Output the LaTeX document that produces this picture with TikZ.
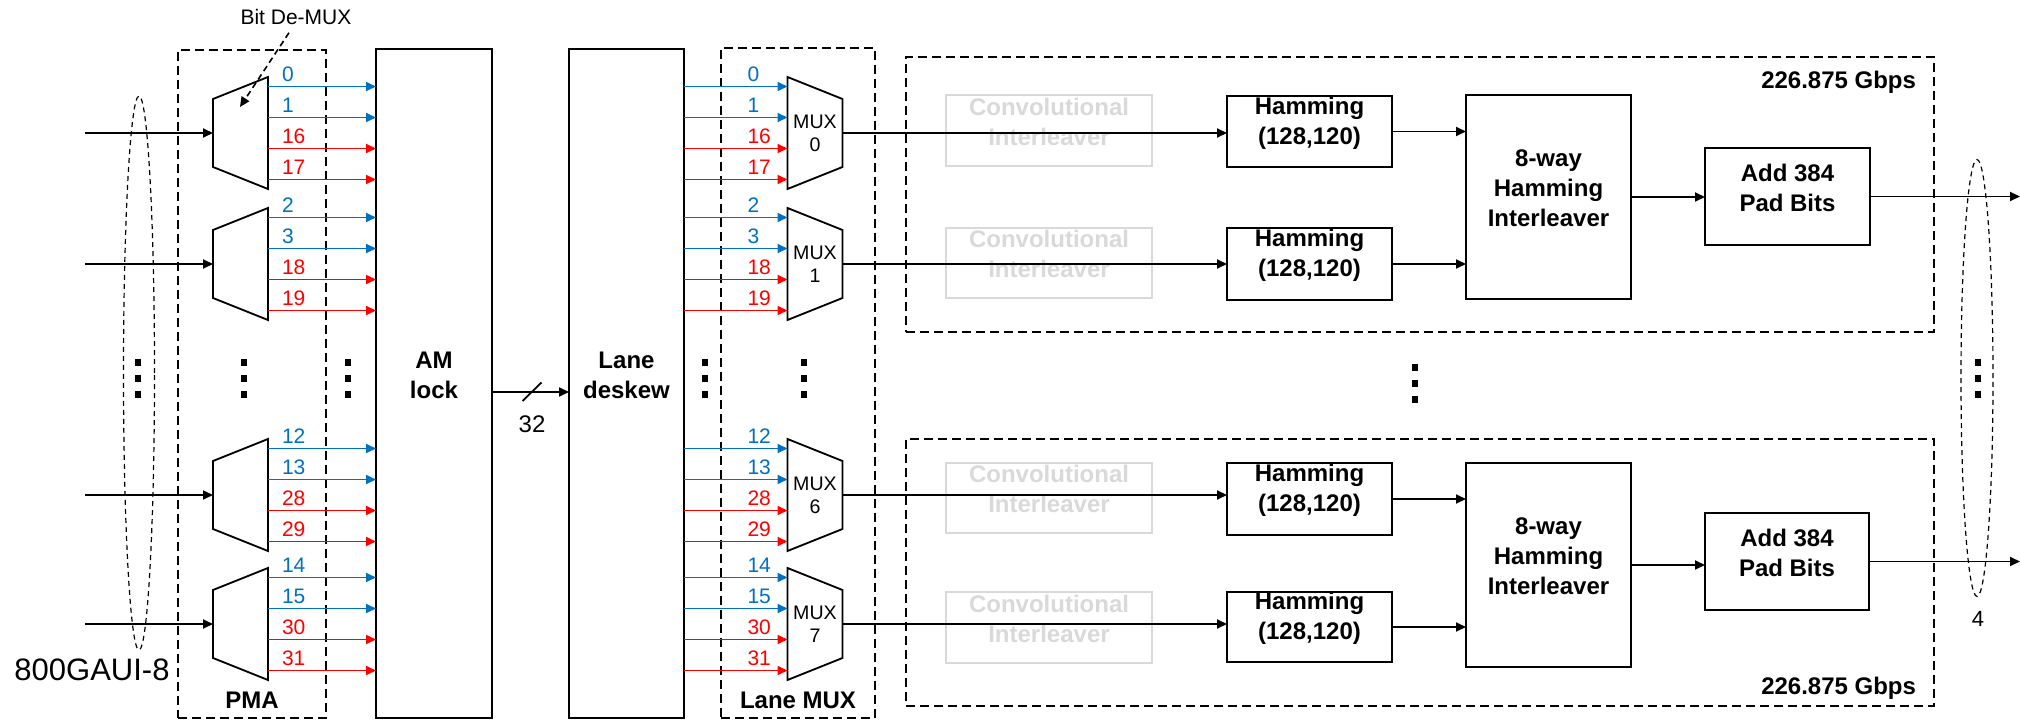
\documentclass[tikz,border=0pt]{standalone}
\usepackage{fontspec}
\setmainfont{Liberation Sans}
\usetikzlibrary{arrows.meta,calc,fit,shapes.geometric}

\definecolor{laneblue}{HTML}{0070C0}
\definecolor{lanered}{HTML}{FF0000}
\definecolor{ghost}{HTML}{D9D9D9}

\begin{document}
\begin{tikzpicture}[x=0.5pt,y=-0.5pt,
  every node/.style={inner sep=0pt, outer sep=0pt},
  arr/.style={line width=0.9pt, -{Triangle[length=5pt,width=4.5pt]}},
  blk/.style={draw, line width=0.9pt, align=center, font=\bfseries\fontsize{12}{15}\selectfont},
  ghostbox/.style={draw=ghost, line width=0.9pt, align=center, text=ghost, font=\bfseries\fontsize{12}{15}\selectfont},
  grpbox/.style={draw, line width=0.9pt, dash pattern=on 4.5pt off 2.5pt},
  trapbox/.style={minimum width=27.5pt, minimum height=56pt, align=center, font=\fontsize{9.8}{11.5}\selectfont},
  trapline/.style={line width=0.9pt},
  lanelbl/.style={font=\fontsize{10.5}{12}\selectfont, anchor=base west},
  bundle/.style={draw, ellipse, line width=0.6pt, dash pattern=on 2.5pt off 2pt},
  grplbl/.style={font=\bfseries\fontsize{12}{15}\selectfont},
]
\useasboundingbox (0,0) rectangle (2020,722);

% ---------- PMA, AM lock, lane deskew, lane MUX ----------
\node[grpbox, fit={(178,50)(326,718)}] (pma) {};
\node[grplbl, anchor=base] (pmalbl) at ($(pma.south)+(0,-10)$) {PMA};
\node[blk, fit={(376,49)(492,718)}] (am) {AM\\lock};
\node[blk, fit={(569,49)(684,718)}] (ld) {Lane\\deskew};
\node[grpbox, fit={(721,48)(875,718)}] (lmux) {};
\node[grplbl, anchor=base] (lmuxlbl) at ($(lmux.south)+(0,-10)$) {Lane MUX};

% input bundle
\node[bundle, minimum width=15.5pt, minimum height=277pt] (inbundle) at (139,373) {};
\node[font=\fontsize{15.5}{18}\selectfont] (gaui) at (92,670) {800GAUI-8};

% bit de-mux call-out
\node[font=\fontsize{10.5}{12}\selectfont] (bd) at (296,17) {Bit De-MUX};
\coordinate (bdtip) at (240,107);
\draw[line width=0.8pt, dash pattern=on 3pt off 2pt, -{Triangle[length=5pt,width=4.5pt]}]
  ($(bd.south)+(-7,8)$) -- (bdtip);

% de-muxes, lane MUXes and the 32 lanes
\foreach \g/\m/\c/\a/\b/\r/\s in {0/0/133/0/1/16/17, 1/1/264/2/3/18/19,
                                  2/6/495/12/13/28/29, 3/7/624/14/15/30/31} {
  \node[trapbox] (dm\g) at (240.5,\c) {};
  \draw[trapline] (dm\g.north east) -- (dm\g.south east)
    -- ($(dm\g.south west)+(0,-22)$) -- ($(dm\g.north west)+(0,22)$) -- cycle;
  \node[trapbox] (mx\g) at (815,\c) {MUX\\\m};
  \draw[trapline] (mx\g.north west) -- ($(mx\g.north east)+(0,22)$)
    -- ($(mx\g.south east)+(0,-22)$) -- (mx\g.south west) -- cycle;
  \coordinate (src\g) at (85,\c);
  \draw[arr] (src\g) -- (dm\g.west);
  \foreach \dy/\lab/\col [count=\k] in {-46.5/\a/laneblue, -15.5/\b/laneblue,
                                         15.5/\r/lanered, 46.5/\s/lanered} {
    \coordinate (pl\g-\k) at ($(dm\g.east)+(0,\dy)$);
    \draw[arr, color=\col] (pl\g-\k) -- (pl\g-\k -| am.west);
    \node[lanelbl, text=\col] (plab\g-\k) at ($(pl\g-\k)+(14,-5)$) {\lab};
    \coordinate (ql\g-\k) at ($(mx\g.west)+(0,\dy)$);
    \draw[arr, color=\col] (ql\g-\k -| ld.east) -- (ql\g-\k);
    \node[lanelbl, text=\col] (qlab\g-\k) at ($(ql\g-\k)+(-40,-5)$) {\lab};
  }
}

% 32-lane bus between AM lock and lane deskew
\coordinate (bus) at (532,392);
\draw[arr] (bus -| am.east) -- (bus -| ld.west);
\draw[line width=0.9pt] ($(bus)+(-9.5,9)$) -- ($(bus)+(9.5,-9.5)$);
\node[font=\fontsize{12}{14}\selectfont] (buswidth) at (532,424) {32};

% ---------- upper FEC group ----------
\node[grpbox, fit={(906,57)(1934,332)}] (fecA) {};
\node[ghostbox, fit={(946,95)(1152,166)}] (ciA0) {Convolutional\\Interleaver};
\node[ghostbox, fit={(946,228)(1152,298)}] (ciA1) {Convolutional\\Interleaver};
\node[blk, fit={(1227,96)(1392,167)}] (hmA0) {Hamming\\(128,120)};
\node[blk, fit={(1227,228)(1392,300)}] (hmA1) {Hamming\\(128,120)};
\node[blk, fit={(1466,95)(1631,299)}] (hiA) {8-way\\Hamming\\Interleaver};
\node[blk, fit={(1705,148)(1870,245)}] (padA) {Add 384\\Pad Bits};
\node[grplbl, anchor=base east] (rateA) at (1916,89) {226.875 Gbps};

% ---------- lower FEC group ----------
\node[grpbox, fit={(906,439)(1934,706)}] (fecB) {};
\node[ghostbox, fit={(946,463)(1152,533)}] (ciB0) {Convolutional\\Interleaver};
\node[ghostbox, fit={(946,592)(1152,663)}] (ciB1) {Convolutional\\Interleaver};
\node[blk, fit={(1227,463)(1392,535)}] (hmB0) {Hamming\\(128,120)};
\node[blk, fit={(1227,592)(1392,662)}] (hmB1) {Hamming\\(128,120)};
\node[blk, fit={(1466,463)(1631,667)}] (hiB) {8-way\\Hamming\\Interleaver};
\node[blk, fit={(1705,513)(1869,610)}] (padB) {Add 384\\Pad Bits};
\node[grplbl, anchor=base east] (rateB) at (1916,694) {226.875 Gbps};

% MUX outputs into the Hamming encoders
\draw[arr] (mx0.east) -- (mx0.east -| hmA0.west);
\draw[arr] (mx1.east) -- (mx1.east -| hmA1.west);
\draw[arr] (mx2.east) -- (mx2.east -| hmB0.west);
\draw[arr] (mx3.east) -- (mx3.east -| hmB1.west);

% encoders to interleavers to padding
\draw[arr] (hmA0.east) -- (hmA0.east -| hiA.west);
\draw[arr] (hmA1.east) -- (hmA1.east -| hiA.west);
\draw[arr] (hmB0.east) -- (hmB0.east -| hiB.west);
\draw[arr] (hmB1.east) -- (hmB1.east -| hiB.west);
\draw[arr] (hiA.east) -- (hiA.east -| padA.west);
\draw[arr] (hiB.east) -- (hiB.east -| padB.west);

% outputs
\coordinate (outA) at (2020,196);
\coordinate (outB) at (2020,562);
\draw[arr] (padA.east) -- (padA.east -| outA);
\draw[arr] (padB.east) -- (padB.east -| outB);
\node[bundle, minimum width=16pt, minimum height=218.5pt] (outbundle) at (1977,378) {};
\node[font=\fontsize{11}{13}\selectfont] (outcount) at (1978,619) {4};

% vertical ellipsis marks
\foreach \x/\y in {138/362, 244/362, 348/362, 705/362, 804/362, 1415/367, 1978/362} {
  \foreach \k in {0,1,2} {
    \fill ($(\x,\y)+(-3,\k*16-3.5)$) rectangle +(6,7);
  }
}
\end{tikzpicture}
\end{document}
